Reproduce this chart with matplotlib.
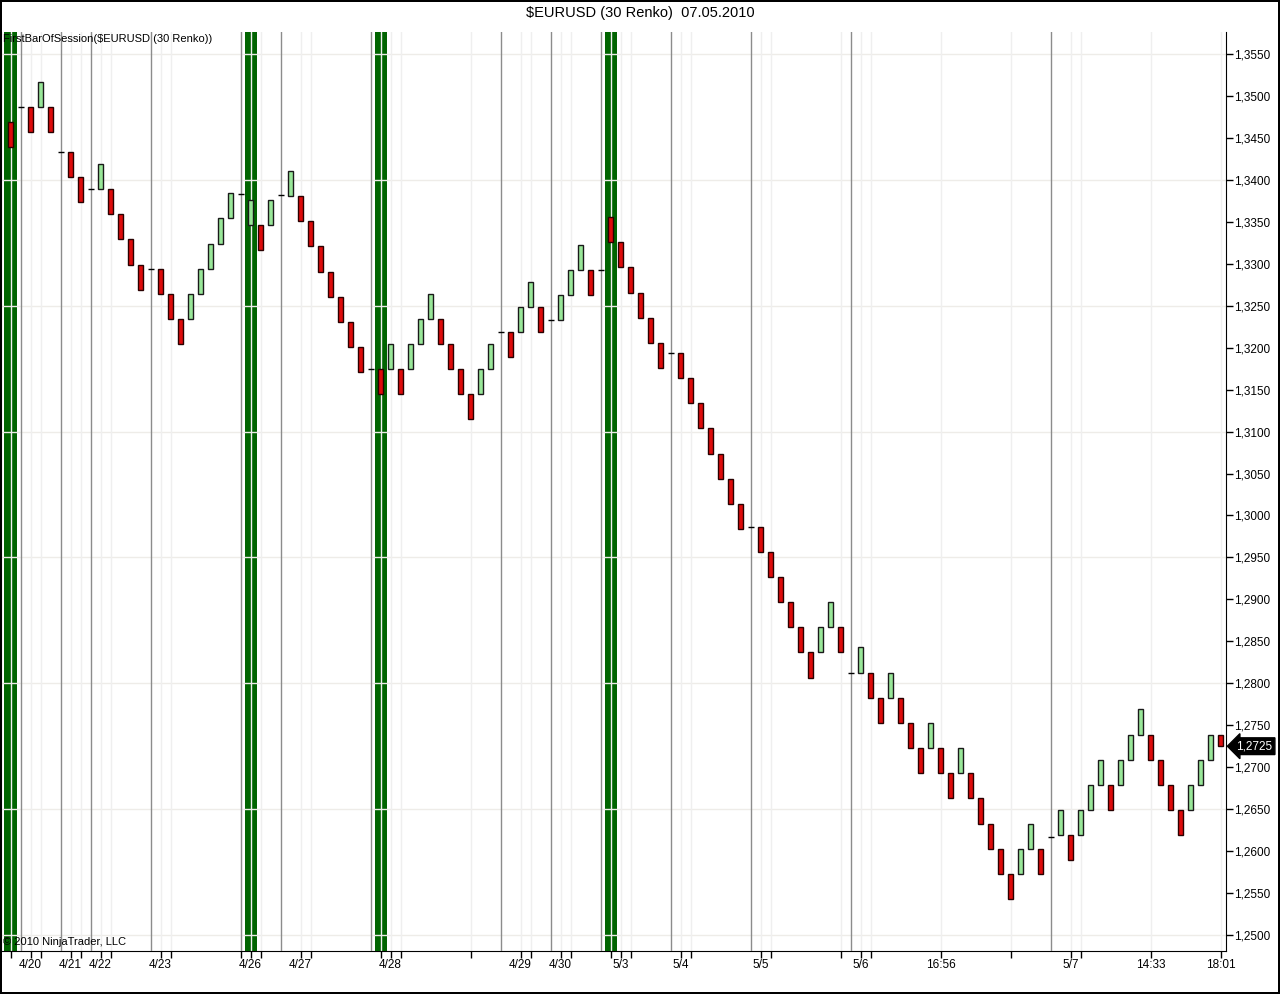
import numpy as np
import matplotlib.pyplot as plt
import matplotlib.transforms as mtransforms
from matplotlib.ticker import FuncFormatter, MultipleLocator

plt.rcParams['font.family'] = ['Liberation Sans', 'DejaVu Sans']

# Renko bricks (open, close); open == close marks the first bar of a session
opens = [1.3469, 1.3487, 1.3487, 1.3487, 1.3487, 1.3433, 1.3433, 1.3403, 1.3389, 1.3389,
         1.3389, 1.3359, 1.3329, 1.3299, 1.3294, 1.3294, 1.3264, 1.3234, 1.3234, 1.3264,
         1.3294, 1.3324, 1.3354, 1.3383, 1.3346, 1.3346, 1.3346, 1.3382, 1.3381, 1.3381,
         1.3351, 1.3321, 1.3290, 1.3260, 1.3231, 1.3201, 1.3175, 1.3175, 1.3175, 1.3175,
         1.3175, 1.3204, 1.3234, 1.3234, 1.3204, 1.3175, 1.3145, 1.3145, 1.3175, 1.3219,
         1.3219, 1.3219, 1.3248, 1.3248, 1.3233, 1.3233, 1.3263, 1.3293, 1.3293, 1.3293,
         1.3356, 1.3326, 1.3296, 1.3265, 1.3235, 1.3206, 1.3194, 1.3194, 1.3164, 1.3134,
         1.3104, 1.3073, 1.3044, 1.3014, 1.2986, 1.2986, 1.2957, 1.2927, 1.2897, 1.2867,
         1.2837, 1.2837, 1.2867, 1.2867, 1.2812, 1.2812, 1.2812, 1.2783, 1.2783, 1.2783,
         1.2753, 1.2723, 1.2723, 1.2723, 1.2693, 1.2693, 1.2693, 1.2663, 1.2632, 1.2603,
         1.2573, 1.2573, 1.2603, 1.2603, 1.2617, 1.2619, 1.2619, 1.2619, 1.2649, 1.2679,
         1.2679, 1.2679, 1.2709, 1.2738, 1.2738, 1.2709, 1.2679, 1.2649, 1.2649, 1.2679,
         1.2709, 1.2738]
closes = [1.3439, 1.3487, 1.3457, 1.3517, 1.3457, 1.3433, 1.3403, 1.3373, 1.3389, 1.3419,
          1.3359, 1.3329, 1.3299, 1.3269, 1.3294, 1.3264, 1.3234, 1.3204, 1.3264, 1.3294,
          1.3324, 1.3354, 1.3384, 1.3383, 1.3376, 1.3316, 1.3376, 1.3382, 1.3411, 1.3351,
          1.3321, 1.3290, 1.3260, 1.3231, 1.3201, 1.3171, 1.3175, 1.3145, 1.3204, 1.3145,
          1.3204, 1.3234, 1.3264, 1.3204, 1.3175, 1.3145, 1.3115, 1.3175, 1.3204, 1.3219,
          1.3189, 1.3248, 1.3278, 1.3219, 1.3233, 1.3263, 1.3293, 1.3322, 1.3263, 1.3293,
          1.3326, 1.3296, 1.3265, 1.3235, 1.3206, 1.3176, 1.3194, 1.3164, 1.3134, 1.3104,
          1.3073, 1.3044, 1.3014, 1.2984, 1.2986, 1.2957, 1.2927, 1.2897, 1.2867, 1.2837,
          1.2806, 1.2867, 1.2897, 1.2837, 1.2812, 1.2843, 1.2783, 1.2753, 1.2812, 1.2753,
          1.2723, 1.2693, 1.2753, 1.2693, 1.2663, 1.2723, 1.2663, 1.2632, 1.2603, 1.2573,
          1.2543, 1.2603, 1.2632, 1.2573, 1.2617, 1.2649, 1.2589, 1.2649, 1.2679, 1.2709,
          1.2649, 1.2709, 1.2738, 1.2769, 1.2709, 1.2679, 1.2649, 1.2619, 1.2679, 1.2709,
          1.2738, 1.2725]

# bars highlighted by the FirstBarOfSession indicator
highlight_bars = [0, 24, 37, 60]

# x-axis ticks (bar index) and their labels
tick_bars = [0, 2, 3, 6, 7, 9, 10, 15, 16, 23, 24, 25, 29, 30, 37, 38, 39, 46, 51, 52,
             55, 56, 60, 61, 62, 67, 68, 75, 76, 83, 85, 86, 93, 100, 106, 107, 114, 121]
label_bars = [2, 6, 9, 15, 24, 29, 38, 51, 55, 61, 67, 75, 85, 93, 106, 114, 121]
label_texts = ['4/20', '4/21', '4/22', '4/23', '4/26', '4/27', '4/28', '4/29', '4/30',
               '5/3', '5/4', '5/5', '5/6', '16:56', '5/7', '14:33', '18:01']

last_price = 1.2725

opens = np.array(opens)
closes = np.array(closes)
idx = np.arange(len(opens))
up = closes > opens
down = closes < opens
flat = closes == opens

W, H = 1280, 994
fig = plt.figure(figsize=(W / 100, H / 100), dpi=100)
fig.patch.set_edgecolor('black')
fig.patch.set_linewidth(1.5)
ax = fig.add_axes([1 / W, 43 / H, 1225 / W, 919 / H])
ax.set_xlim(-0.95, 121.55)
ax.set_ylim(1.24809, 1.35762)

# highlight bands
for b in highlight_bars:
    ax.axvspan(b - 0.6, b + 0.6, color='#006400', lw=0, zorder=1)

# grid
for v in np.arange(1.2500, 1.3600, 0.0150):
    ax.axhline(v, color='#eeece8', lw=1, zorder=2)
for t in tick_bars:
    ax.axvline(t, color='#efefef', lw=1, zorder=2)

# session break lines
for s in idx[flat]:
    ax.axvline(s, color='#8c8c8c', lw=1, zorder=3)

# bricks
ax.bar(idx[up], closes[up] - opens[up], bottom=opens[up], width=0.42,
       color='#98e698', edgecolor='#1a1a1a', linewidth=1, zorder=4)
ax.bar(idx[down], closes[down] - opens[down], bottom=opens[down], width=0.42,
       color='#dd0b0b', edgecolor='#2a0000', linewidth=1, zorder=4)
ax.hlines(closes[flat], idx[flat] - 0.3, idx[flat] + 0.3, color='black', lw=1, zorder=4)

# axes styling
ax.spines['top'].set_visible(False)
for sp in ['left', 'right', 'bottom']:
    ax.spines[sp].set_color('black')

ax.yaxis.tick_right()
ax.yaxis.set_major_locator(MultipleLocator(0.005))
ax.yaxis.set_major_formatter(FuncFormatter(lambda v, p: f'{v:.4f}'.replace('.', ',')))
ax.tick_params(axis='y', direction='out', length=5, pad=1, labelsize=8.5, width=1)

ax.set_xticks(tick_bars)
ax.set_xticklabels([label_texts[label_bars.index(t)] if t in label_bars else '' for t in tick_bars])
ax.tick_params(axis='x', direction='out', length=5, pad=1, labelsize=8.5, width=1)

# texts
fig.text(0.5, 1 - 13 / H, '$EURUSD (30 Renko)  07.05.2010', ha='center', va='center', fontsize=10.5)
ax.text(2 / 1225, 1 - 7 / 919, 'FirstBarOfSession($EURUSD (30 Renko))', transform=ax.transAxes,
        ha='left', va='center', fontsize=8, zorder=6)
ax.text(2 / 1225, 9 / 919, '\u00a9 2010 NinjaTrader, LLC', transform=ax.transAxes,
        ha='left', va='center', fontsize=8, zorder=6)

# last price marker
trans = mtransforms.blended_transform_factory(ax.transAxes, ax.transData)
ax.text(1.0085, last_price, f'{last_price:.4f}'.replace('.', ','), transform=trans,
        ha='left', va='center', fontsize=8.5, color='white', zorder=7, clip_on=False,
        bbox=dict(boxstyle='larrow,pad=0.2', fc='black', ec='black'))

fig.savefig('out.png', dpi=100)
